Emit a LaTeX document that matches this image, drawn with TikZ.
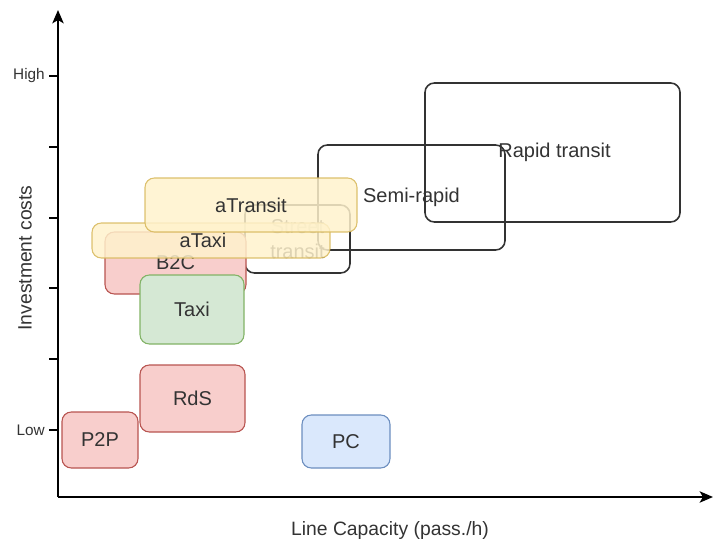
\documentclass[tikz,border=0pt]{standalone}
\usepackage{fontspec}
\setmainfont{Liberation Sans}
\usetikzlibrary{arrows.meta}
\definecolor{redF}{HTML}{F8CECC}
\definecolor{redD}{HTML}{B85450}
\definecolor{grnF}{HTML}{D5E8D4}
\definecolor{grnD}{HTML}{82B366}
\definecolor{bluF}{HTML}{DAE8FC}
\definecolor{bluD}{HTML}{6C8EBF}
\definecolor{yelF}{HTML}{FFF2CC}
\definecolor{yelD}{HTML}{D6B656}
\definecolor{txt}{HTML}{333333}
\definecolor{edge}{HTML}{333333}
\tikzset{
  bx/.style 2 args={rectangle, rounded corners=7pt, inner sep=0pt,
    minimum width={#1*0.75pt}, minimum height={#2*0.75pt},
    font=\fontsize{15}{19}\selectfont, text=txt, align=center},
  darkbox/.style={draw=edge, line width=1.2pt},
  whitebox/.style={draw=edge, fill=white, line width=1.2pt},
  redbox/.style={draw=redD, fill=redF, line width=0.8pt},
  grnbox/.style={draw=grnD, fill=grnF, line width=0.8pt},
  blubox/.style={draw=bluD, fill=bluF, line width=0.8pt},
  yelbox/.style={draw=yelD, fill=yelF, line width=0.8pt, fill opacity=0.84, draw opacity=0.84, text opacity=1},
  axisline/.style={line width=1.4pt, black, -{Stealth[length=10pt,width=8.5pt,inset=2.5pt]}},
  tick/.style={line width=0.9pt, black},
  ticklbl/.style={font=\fontsize{11.5}{13}\selectfont, text=txt, anchor=east, inner sep=0pt},
  axislbl/.style={font=\fontsize{14.5}{16}\selectfont, text=txt, inner sep=0pt}
}
\begin{document}
\begin{tikzpicture}[x=0.75pt, y=-0.75pt]
\useasboundingbox (0,0) rectangle (715,542);
% axes
\coordinate (O) at (58,497);
\coordinate (Ytop) at (58,10);
\coordinate (Xend) at (713,497);
\draw[axisline] (O) -- (Ytop);
\draw[axisline] (O) -- (Xend);
% ticks
\foreach \yy [count=\i] in {76,147,218,288,359,430} {
  \coordinate (t\i a) at (49,\yy);
  \coordinate (t\i b) at (58,\yy);
  \draw[tick] (t\i a) -- (t\i b);
}
\node[ticklbl] (high) at (45,76) {High};
\node[ticklbl] (low) at (45,430) {Low};
\node[axislbl, rotate=90] (ylbl) at (25,258) {Investment costs};
\node[axislbl] (xlbl) at (390,530) {Line Capacity (pass./h)};
% boxes (bottom to top)
\node[bx={105}{68}, whitebox] (street) at (297.5,239) {Street\\transit};
\node[bx={187}{105}, darkbox] (semi) at (411.5,197.5) {Semi-rapid};
\node[bx={255}{139}, darkbox] (rapid) at (552.5,152.5) {\hspace*{3pt}Rapid transit};
\node[bx={141}{62}, redbox] (b2c) at (175.5,263) {\raisebox{-3pt}{B2C}};
\node[bx={104}{69}, grnbox] (taxi) at (192,309.5) {Taxi};
\node[bx={238}{35}, yelbox] (ataxi) at (211,240.5) {\hspace*{-12pt}aTaxi};
\node[bx={212}{54}, yelbox] (atransit) at (251,205) {aTransit};
\node[bx={105}{67}, redbox] (rds) at (192.5,398.5) {RdS};
\node[bx={76}{56}, redbox] (p2p) at (100,440) {P2P};
\node[bx={88}{53}, blubox] (pc) at (346,441.5) {PC};
\end{tikzpicture}
\end{document}
